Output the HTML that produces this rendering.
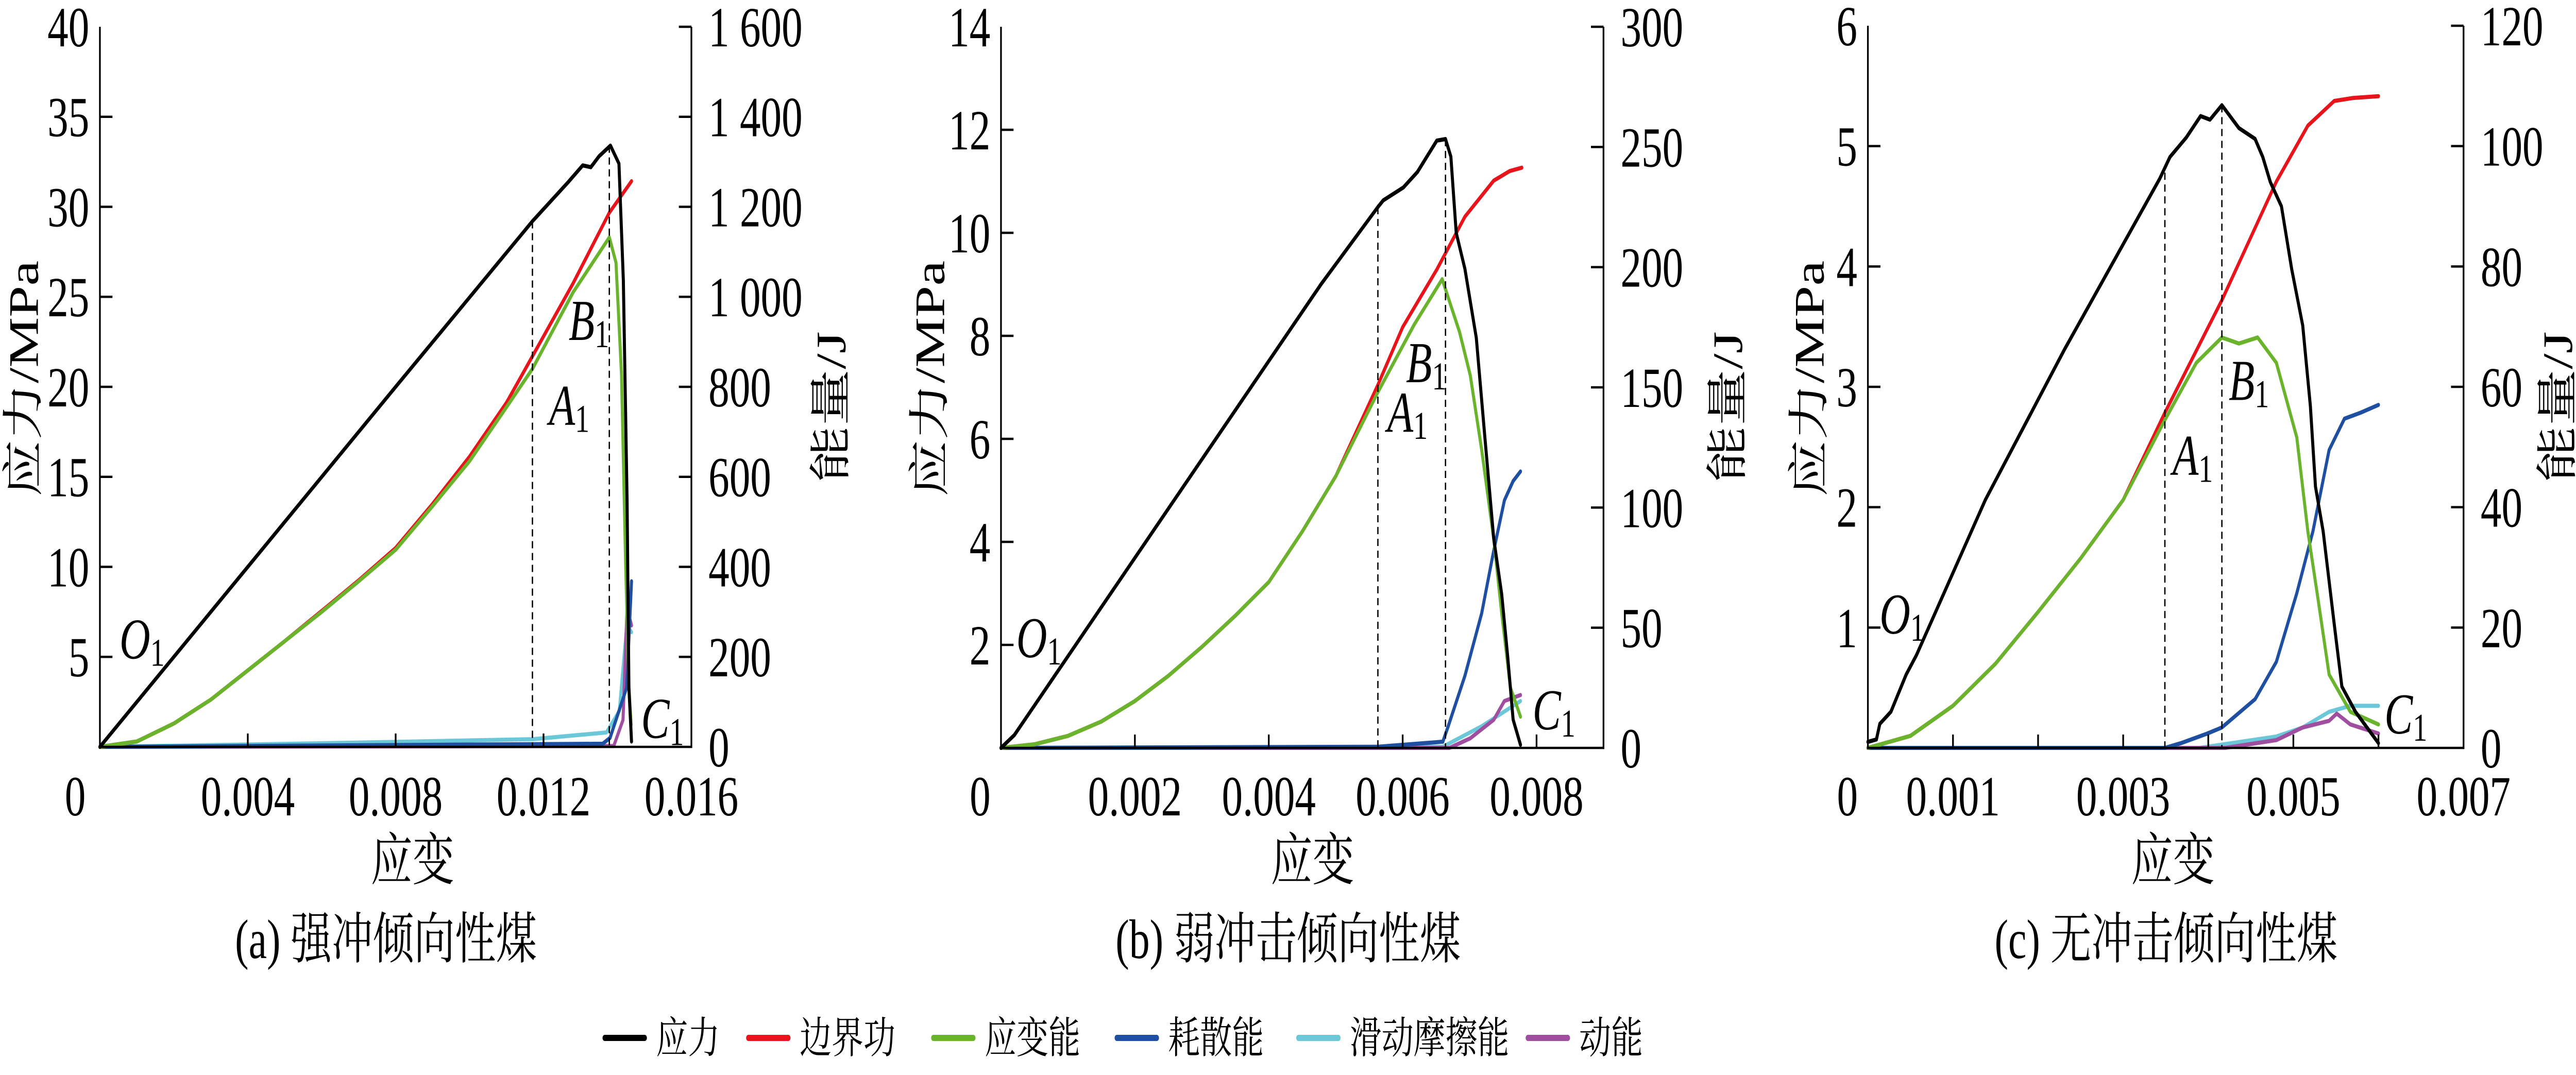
<!DOCTYPE html>
<html><head><meta charset="utf-8">
<meta name="viewport" content="width=6781">
<style>
html,body{margin:0;padding:0;background:#fff;width:100%;height:100%;overflow:hidden;}
svg{display:block;width:100vw;height:100vh;}
text{font-family:"Liberation Serif","Noto Serif CJK SC","Noto Sans CJK SC",serif;fill:#000;}
</style></head>
<body>
<svg id="fig" xmlns="http://www.w3.org/2000/svg" viewBox="0 0 6781 2087" preserveAspectRatio="none"></svg>
<script>
// ---------- Panel (a) data ----------
const aStressX = [0,0.004,0.008,0.0117,0.01268,0.01306,0.01328,0.0135,0.01381,0.01404,0.01416,0.01426,0.01431,0.01438];
const aStressY = [0,10,20,29.2,31.4,32.3,32.2,32.8,33.4,32.4,25.9,13.7,3.3,0.3];
const aWorkX = [0,0.001,0.002,0.003,0.004,0.005,0.006,0.007,0.008,0.009,0.01,0.011,0.0117,0.0128,0.01378,0.01438];
const aWorkY = [0,12,52,105,170,235,302,370,442,540,645,765,868,1030,1187,1257];
const aStrainEX = [0,0.001,0.002,0.003,0.004,0.005,0.006,0.007,0.008,0.009,0.01,0.011,0.0117,0.0128,0.01378,0.01396,0.01411,0.01422,0.01431,0.01437];
const aStrainEY = [0,12,52,105,170,235,300,368,438,535,635,755,840,1010,1132,1076,826,410,132,49];
const aDissX = [0,0.0136,0.0138,0.01425,0.01438];
const aDissY = [0,7,20,132,368];
const aFricX = [0,0.006,0.0117,0.0137,0.01405,0.01425,0.01438];
const aFricY = [0,8,17,32,80,270,255];
const aKinX = [0,0.0139,0.01415,0.01426,0.01432,0.01438];
const aKinY = [0,2,60,312,290,270];
const aXTicks = [0,0.004,0.008,0.012,0.016];
const aXLabels = ["0","0.004","0.008","0.012","0.016"];
const aYTicks = [5,10,15,20,25,30,35,40];
const aY2Ticks = [0,200,400,600,800,1000,1200,1400,1600];
const aY2Labels = ["0","200","400","600","800","1 000","1 200","1 400","1 600"];
const aDashes = [[0.0117,29.2],[0.01378,33.4]];

// ---------- Panel (b) data ----------
const bStressX = [0,0.0002,0.00478,0.00563,0.00571,0.00601,0.00622,0.00651,0.00664,0.00672,0.0068,0.00693,0.0071,0.00723,0.00736,0.00748,0.00757,0.00765,0.00776];
const bStressY = [0,0.25,9.0,10.5,10.63,10.88,11.18,11.79,11.82,11.48,10.0,9.3,7.96,6.0,4.07,2.98,1.76,0.55,0.06];
const bWorkX = [0,0.0005,0.001,0.0015,0.002,0.0025,0.003,0.0035,0.004,0.0045,0.005,0.00563,0.006,0.00651,0.00693,0.00736,0.0076,0.00778];
const bWorkY = [0,1.5,5,11,19.5,30,42,55,69,90,113,151,175,199,221,236,240,241.4];
const bStrainEX = [0,0.0005,0.001,0.0015,0.002,0.0025,0.003,0.0035,0.004,0.0045,0.005,0.00563,0.00617,0.00659,0.00685,0.00701,0.00718,0.00736,0.00748,0.00761,0.00776];
const bStrainEY = [0,1.5,5,11,19.5,30,42,55,69,90,113,148,176,195,173,155,124,87,56,25,13];
const bDissX = [0,0.00563,0.0066,0.00668,0.00693,0.00718,0.00736,0.00752,0.00765,0.00776];
const bDissY = [0,0.5,2.6,9,30,56,82,103,111,115];
const bFricX = [0,0.0066,0.00718,0.00776];
const bFricY = [0,0.5,9,19.5];
const bKinX = [0,0.0067,0.00701,0.00736,0.00752,0.00776];
const bKinY = [0,0,4,11.7,19.5,22];
const bXTicks = [0,0.002,0.004,0.006,0.008];
const bXLabels = ["0","0.002","0.004","0.006","0.008"];
const bYTicks = [2,4,6,8,10,12,14];
const bY2Ticks = [0,50,100,150,200,250,300];
const bY2Labels = ["0","50","100","150","200","250","300"];
const bDashes = [[0.00563,10.5],[0.00664,11.82]];

// ---------- Panel (c) data ----------
const cStressX = [0,0.0001,0.00014,0.00027,0.00045,0.00057,0.00138,0.00231,0.00343,0.00355,0.00374,0.00391,0.00402,0.00416,0.00436,0.00455,0.00464,0.00473,0.00486,0.00498,0.00511,0.0052,0.00526,0.00535,0.00548,0.00557,0.00573,0.006];
const cStressY = [0.05,0.07,0.2,0.3,0.61,0.77,2.06,3.31,4.73,4.91,5.07,5.25,5.22,5.34,5.15,5.06,4.91,4.7,4.5,3.98,3.51,2.84,2.17,1.8,1.03,0.51,0.3,0.04];
const cWorkX = [0,0.0005,0.001,0.0015,0.002,0.0025,0.003,0.00349,0.00416,0.0048,0.00517,0.00548,0.0057,0.006];
const cWorkY = [0,2,7,14,22.6,31.5,41.2,55.7,74.4,94.1,103.4,107.5,108,108.3];
const cStrainEX = [0,0.0005,0.001,0.0015,0.002,0.0025,0.003,0.00349,0.00386,0.00416,0.00436,0.00458,0.0048,0.00504,0.00517,0.00529,0.00542,0.00567,0.006];
const cStrainEY = [0,2,7,14,22.6,31.5,41.2,54.5,64,68.2,67.2,68.2,64,51.6,36,24.7,12.2,6,3.9];
const cDissX = [0,0.00349,0.00368,0.00399,0.00416,0.00455,0.0048,0.00504,0.00523,0.00542,0.0056,0.00579,0.006];
const cDissY = [0,0,0.8,2.4,3.4,8.1,14.3,25.7,36,49.5,54.7,55.7,57];
const cFricX = [0,0.0039,0.0048,0.00511,0.00542,0.00567,0.006];
const cFricY = [0,0,1.9,3.4,6,7,7];
const cKinX = [0,0.0042,0.0048,0.00511,0.00542,0.00551,0.00567,0.006];
const cKinY = [0,0,1.3,3.4,4.5,5.7,3.9,2.4];
const cXTicks = [0,0.001,0.002,0.003,0.004,0.005,0.006,0.007];
const cXLabels = ["0","0.001","","0.003","","0.005","","0.007"];
const cYTicks = [1,2,3,4,5,6];
const cY2Ticks = [0,20,40,60,80,100,120];
const cY2Labels = ["0","20","40","60","80","100","120"];
const cDashes = [[0.00349,4.78],[0.00416,5.34]];

const COLORS = {stress:"#000000", work:"#e8141c", strainE:"#6ab42d", diss:"#1e4fa0", fric:"#6cc8d8", kin:"#a04ea0"};
const NS = "http://www.w3.org/2000/svg";
const svg = document.getElementById("fig");

function mk(tag, attrs, parent){
  const e = document.createElementNS(NS, tag);
  for (const k in attrs) e.setAttribute(k, attrs[k]);
  (parent||svg).appendChild(e);
  return e;
}

function panel(cfg){
  const g = mk("g", {});
  
  
  const sx = v => cfg.x0 + (v/cfg.xmax)*(cfg.x1-cfg.x0);
  const sy = v => cfg.yb - (v/cfg.ymax)*(cfg.yb-cfg.yt);
  const se = v => cfg.yb - (v/cfg.emax)*(cfg.yb-cfg.yt);
  const path = (xs, ys, f) => xs.map((x,i)=>(i?"L":"M")+sx(x).toFixed(1)+","+f(ys[i]).toFixed(1)).join(" ");

  const series = [
    ["fric", cfg.fricX, cfg.fricY, se],
    ["kin", cfg.kinX, cfg.kinY, se],
    ["diss", cfg.dissX, cfg.dissY, se],
    ["work", cfg.workX, cfg.workY, se],
    ["strainE", cfg.strainEX, cfg.strainEY, se],
    ["stress", cfg.stressX, cfg.stressY, sy]
  ];
  for (const s of series){
    const p = mk("path", {d:path(s[1], s[2], s[3]), fill:"none", stroke:COLORS[s[0]], "stroke-width":8, "stroke-linejoin":"round", "stroke-linecap":"round"}, g);
    
    
  }
  cfg.dashes.forEach((d,i)=>{
    const l = mk("line", {x1:sx(d[0]), x2:sx(d[0]), y1:sy(d[1]), y2:cfg.yb, stroke:"#000", "stroke-width":3.5, "stroke-dasharray":"14,9"}, g);
    
    
  });
  const ax = mk("path", {d:`M${cfg.x0},${cfg.yt} L${cfg.x0},${cfg.yb} L${cfg.x1},${cfg.yb} L${cfg.x1},${cfg.yt}`, fill:"none", stroke:"#000", "stroke-width":4.5}, g);
  
  

  cfg.xTicks.forEach((t,i)=>{
    const x = sx(t);
    if (t>0 && t<cfg.xmax){
      const tk = mk("line", {x1:x, x2:x, y1:cfg.yb, y2:cfg.yb-26, stroke:"#000", "stroke-width":4.5}, g);
      
      
    }
    if (cfg.xLabels[i]){
      const tx = mk("text", {x: t===0 ? cfg.x0-cfg.zeroOff : x, y:1583, "font-size":110, "text-anchor":"middle"}, g);
      tx.textContent = cfg.xLabels[i];
      
      
    }
  });
  cfg.yTicks.forEach(t=>{
    const y = sy(t);
    if (t<cfg.ymax){
      const tk = mk("line", {x1:cfg.x0, x2:cfg.x0+33, y1:y, y2:y, stroke:"#000", "stroke-width":4.5}, g);
      
      
    }
    const tx = mk("text", {x:cfg.x0-28, y:y+38, "font-size":110, "text-anchor":"end"}, g);
    tx.textContent = String(t);
    
    
  });
  cfg.y2Ticks.forEach((t,i)=>{
    const y = se(t);
    if (t>0){
      const tk = mk("line", {x1:cfg.x1, x2:cfg.x1-33, y1:y, y2:y, stroke:"#000", "stroke-width":4.5}, g);
      
      
    }
    const tx = mk("text", {x:cfg.x1+45, y:y+38, "font-size":110, "text-anchor":"start"}, g);
    tx.textContent = cfg.y2Labels[i];
    
    
  });
  const yt = mk("text", {x:0, y:0, "font-size":110, "text-anchor":"middle", transform:`translate(${cfg.yTitleX},735) rotate(-90)`}, g);
  yt.textContent = "应力/MPa";
  
  
  const y2t = mk("text", {x:0, y:0, "font-size":110, "text-anchor":"middle", transform:`translate(${cfg.y2TitleX},790) rotate(-90)`}, g);
  y2t.textContent = "能量/J";
  
  
  const xt = mk("text", {x:cfg.xTitleX, y:1708, "font-size":110, "text-anchor":"middle"}, g);
  xt.textContent = "应变";
  
  
  const cap = mk("text", {x:cfg.capX, y:1860, "font-size":108, "text-anchor":"middle"}, g);
  cap.textContent = cfg.caption;
  
  

  cfg.notes.forEach(n=>{
    const t = mk("text", {x:sx(n[1]), y:sy(n[2]), "font-size":112, "font-style":"italic"}, g);
    t.textContent = n[0];
    const sub = mk("tspan", {"font-size":76, "font-style":"normal", dy:14}, t);
    sub.textContent = "1";
    
    
  });
}

panel({id:"a", x0:263, x1:1820, yt:52, yb:1450, xmax:0.016, ymax:40, emax:1600, zeroOff:65,
  stressX:aStressX, stressY:aStressY, workX:aWorkX, workY:aWorkY, strainEX:aStrainEX, strainEY:aStrainEY,
  dissX:aDissX, dissY:aDissY, fricX:aFricX, fricY:aFricY, kinX:aKinX, kinY:aKinY,
  xTicks:aXTicks, xLabels:aXLabels, yTicks:aYTicks, y2Ticks:aY2Ticks, y2Labels:aY2Labels, dashes:aDashes,
  yTitleX:100, y2TitleX:2225, xTitleX:1086, capX:1016, caption:"(a)  强冲倾向性煤",
  notes:[["O",0.00053,4.9],["A",0.01215,17.9],["B",0.01268,22.6],["C",0.01464,0.5]]});

panel({id:"b", x0:2635, x1:4221, yt:52, yb:1452, xmax:0.009, ymax:14, emax:300, zeroOff:55,
  stressX:bStressX, stressY:bStressY, workX:bWorkX, workY:bWorkY, strainEX:bStrainEX, strainEY:bStrainEY,
  dissX:bDissX, dissY:bDissY, fricX:bFricX, fricY:bFricY, kinX:bKinX, kinY:bKinY,
  xTicks:bXTicks, xLabels:bXLabels, yTicks:bYTicks, y2Ticks:bY2Ticks, y2Labels:bY2Labels, dashes:bDashes,
  yTitleX:2485, y2TitleX:4585, xTitleX:3455, capX:3391, caption:"(b)  弱冲击倾向性煤",
  notes:[["O",0.00023,1.76],["A",0.00577,6.14],["B",0.00605,7.1],["C",0.00794,0.36]]});

panel({id:"c", x0:4917, x1:6485, yt:50, yb:1452, xmax:0.007, ymax:6, emax:120, zeroOff:54,
  stressX:cStressX, stressY:cStressY, workX:cWorkX, workY:cWorkY, strainEX:cStrainEX, strainEY:cStrainEY,
  dissX:cDissX, dissY:cDissY, fricX:cFricX, fricY:cFricY, kinX:cKinX, kinY:cKinY,
  xTicks:cXTicks, xLabels:cXLabels, yTicks:cYTicks, y2Ticks:cY2Ticks, y2Labels:cY2Labels, dashes:cDashes,
  yTitleX:4800, y2TitleX:6770, xTitleX:5720, capX:5702, caption:"(c)  无冲击倾向性煤",
  notes:[["O",0.000137,0.95],["A",0.00358,2.27],["B",0.00424,2.89],["C",0.00607,0.12]]});

// legend
const legendNames = ["应力","边界功","应变能","耗散能","滑动摩擦能","动能"];
const legendKeys = ["stress","work","strainE","diss","fric","kin"];
const legendX = [1592,1970,2457,2940,3418,4022];
const lg = mk("g", {});


legendNames.forEach((n,i)=>{
  const l = mk("line", {x1:legendX[i], x2:legendX[i]+105, y1:2015, y2:2015, stroke:COLORS[legendKeys[i]], "stroke-width":12, "stroke-linecap":"round"}, lg);
  
  
  const t = mk("text", {x:legendX[i]+135, y:2044, "font-size":84}, lg);
  t.textContent = n;
  
  
});
</script>
</body></html>
